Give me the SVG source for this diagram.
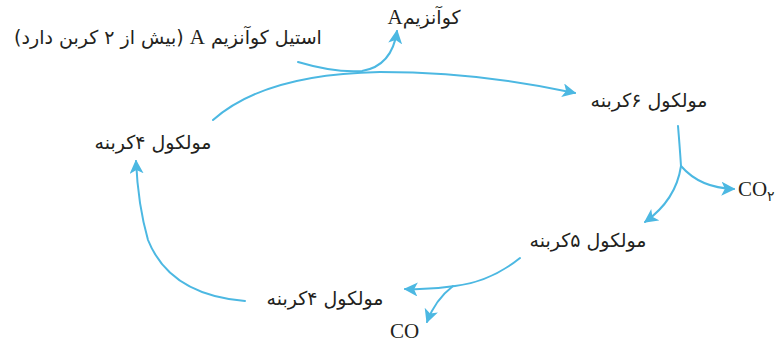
<svg xmlns="http://www.w3.org/2000/svg" width="776" height="346" viewBox="0 0 776 346">
<style>
.fa{font-family:"DejaVu Sans","Noto Sans",sans-serif;font-size:19px;fill:#231f20;text-anchor:middle}
.lat{font-family:"Liberation Serif",serif;font-size:21px;fill:#231f20}
.c{fill:none;stroke:#4cb8e2;stroke-width:2;stroke-linecap:round}
</style>
<defs>
<marker id="ah" viewBox="0 0 10 10" refX="9" refY="5" markerWidth="7" markerHeight="7" orient="auto" markerUnits="strokeWidth">
<path d="M0,0 L10,5 L0,10 L2.5,5 Z" fill="#4cb8e2"/>
</marker>
</defs>
<rect width="776" height="346" fill="#ffffff"/>
<g id="connectors">
<path class="c" d="M213,120 Q265,74 380,72 Q480,72 575,93" marker-end="url(#ah)"/>
<path class="c" d="M298,62 Q335,73 362,71 Q392,66 397,31" marker-end="url(#ah)"/>
<path class="c" d="M678,126 Q680,150 681,166 Q676,200 645,222" marker-end="url(#ah)"/>
<path class="c" d="M681,166 Q700,188 734,189" marker-end="url(#ah)"/>
<path class="c" d="M520,258 Q490,282 455,286 Q430,290 405,289" marker-end="url(#ah)"/>
<path class="c" d="M453,286 Q435,300 427,322" marker-end="url(#ah)"/>
<path class="c" d="M245,301 Q170,295 148,240 Q138,205 136,161" marker-end="url(#ah)"/>
</g>
<g id="acetyl"><text class="fa" x="168" y="44" direction="rtl">استیل کوآنزیم <tspan class="lat" style="font-size:21px">A</tspan> (بیش از ۲ کربن دارد)</text></g>
<g id="coa"><text class="fa" x="424" y="24" direction="rtl">کوآنزیم<tspan class="lat" style="font-size:21px">A</tspan></text></g>
<g id="c6"><text class="fa" x="649" y="107">مولکول ۶کربنه</text></g>
<g id="c4left"><text class="fa" x="153" y="149">مولکول ۴کربنه</text></g>
<g id="co2a"><text class="lat" x="738" y="196">CO<tspan font-size="14" dy="5">۲</tspan></text></g>
<g id="c5"><text class="fa" x="588" y="247">مولکول ۵کربنه</text></g>
<g id="c4bottom"><text class="fa" x="325" y="305">مولکول ۴کربنه</text></g>
<g id="co2b"><text class="lat" x="390" y="338">CO</text></g>
</svg>
